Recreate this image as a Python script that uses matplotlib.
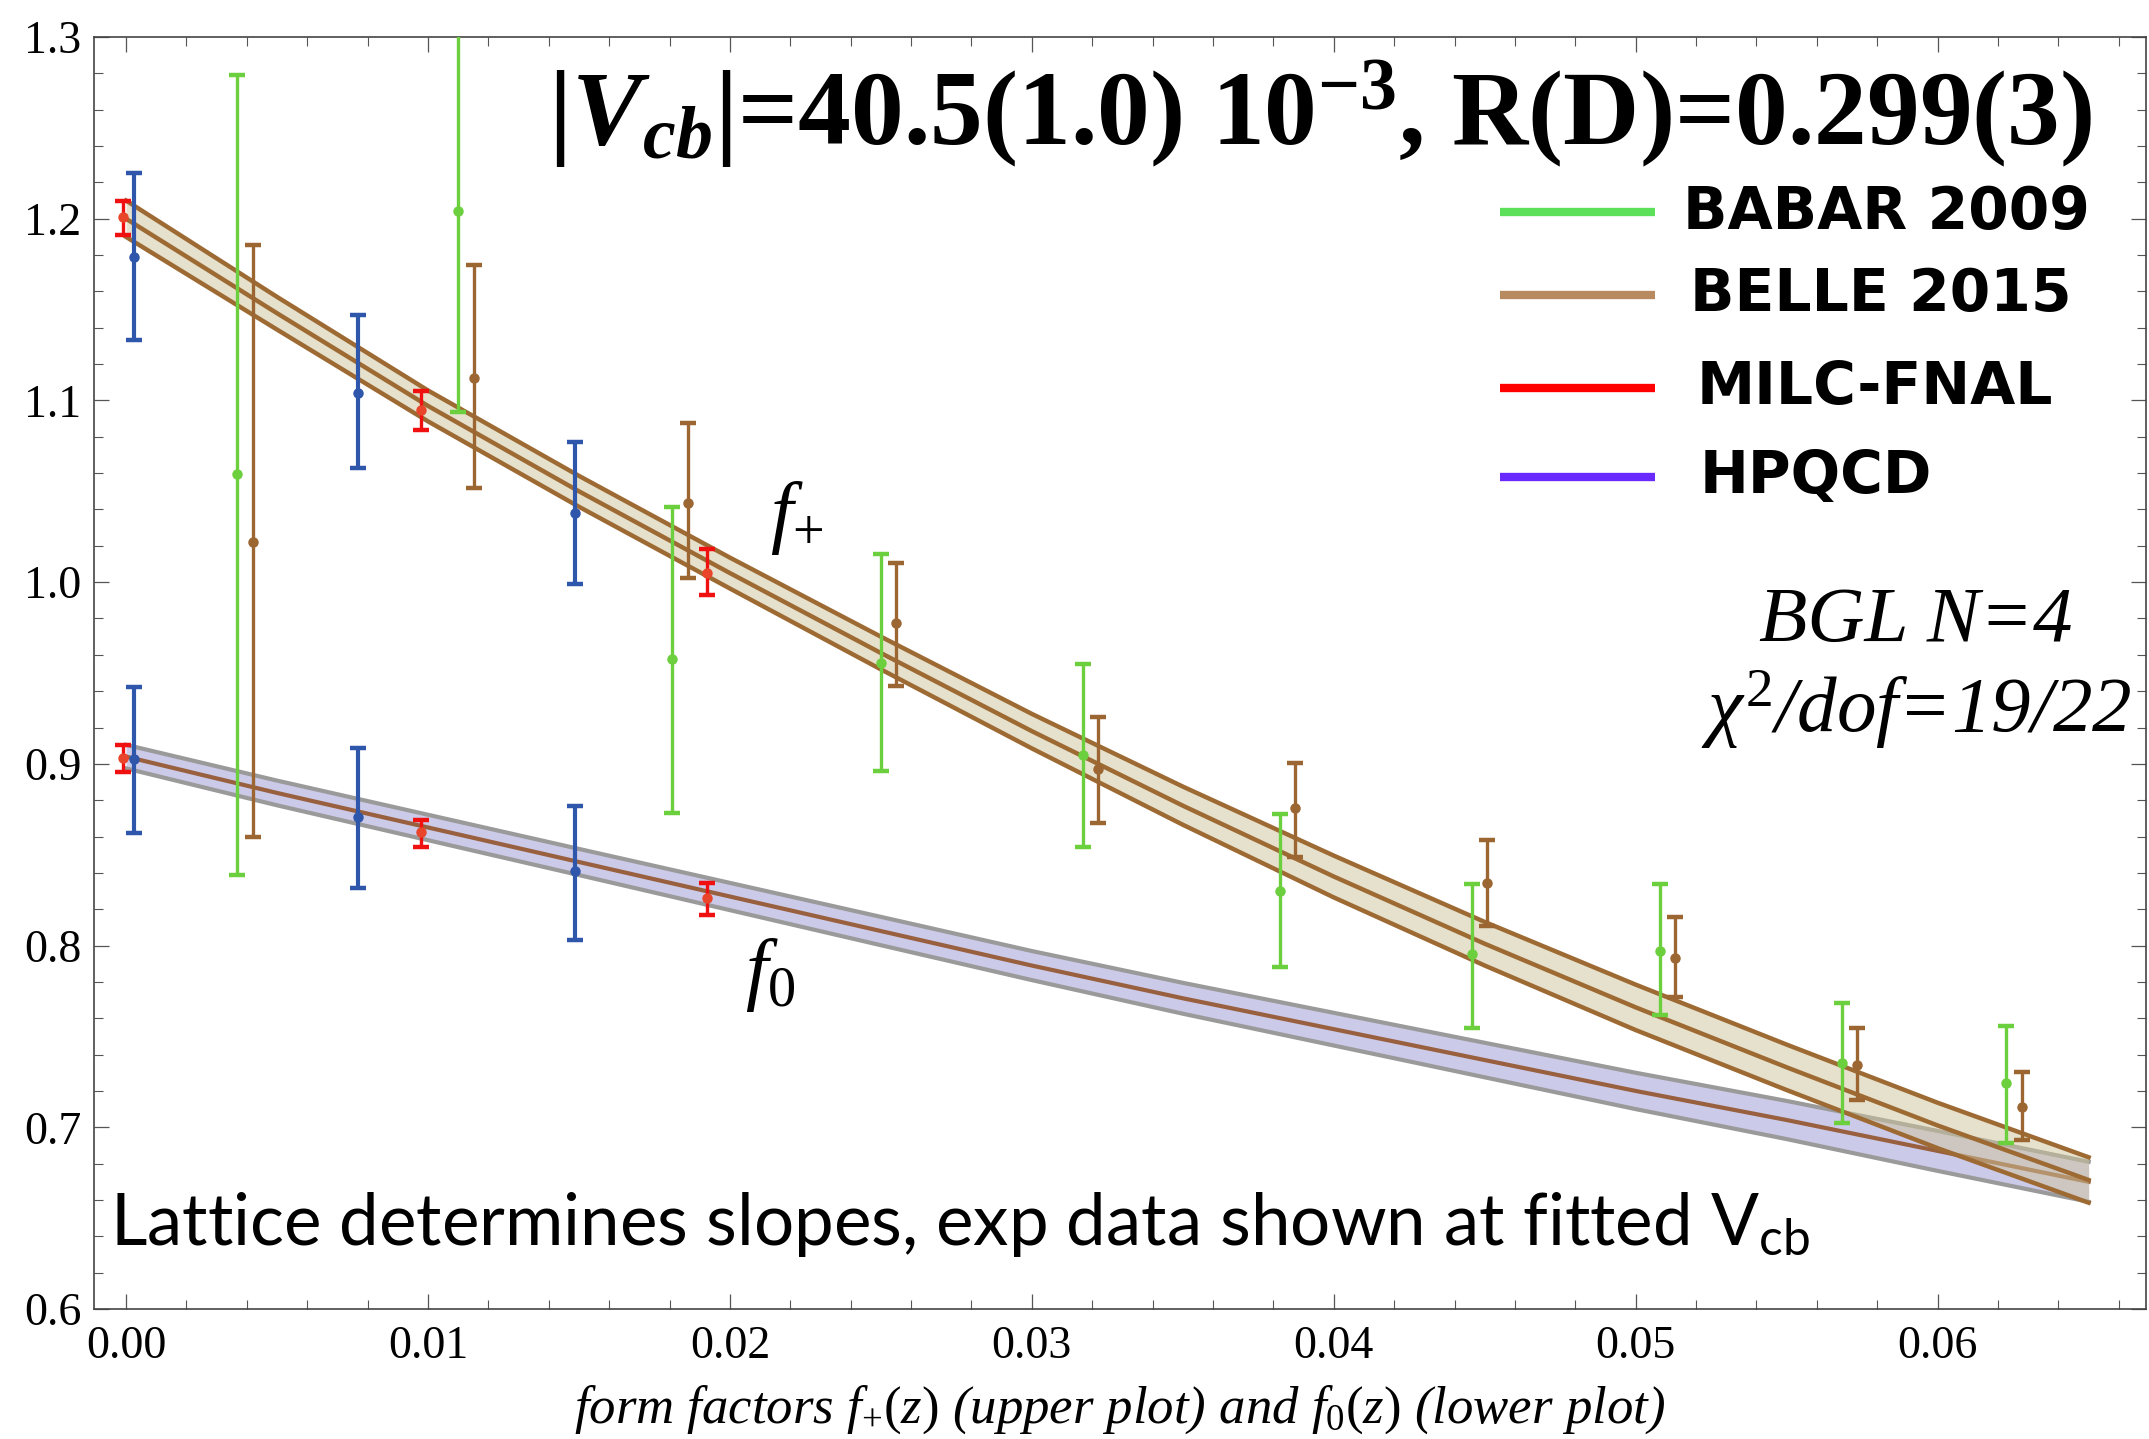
import numpy as np
import matplotlib.pyplot as plt
from matplotlib.ticker import MultipleLocator, FormatStrFormatter

plt.rcParams['font.family'] = ['Liberation Serif', 'DejaVu Serif']
plt.rcParams['mathtext.fontset'] = 'custom'
plt.rcParams['mathtext.rm'] = 'Liberation Serif'
plt.rcParams['mathtext.it'] = 'Liberation Serif:italic'
plt.rcParams['mathtext.bf'] = 'Liberation Serif:italic:bold'
plt.rcParams['mathtext.tt'] = 'Liberation Serif:bold'
plt.rcParams['mathtext.sf'] = 'Lato'

# fit bands (z grid, central value, half width)
z_band = [0.0, 0.005, 0.01, 0.015, 0.02, 0.025, 0.03, 0.035, 0.04, 0.045, 0.05, 0.055, 0.06, 0.065]
fplus = [1.200, 1.148, 1.097, 1.050, 1.005, 0.961, 0.918, 0.877, 0.838, 0.801, 0.766, 0.733, 0.701, 0.671]
fplus_err = [0.010, 0.009, 0.0085, 0.0085, 0.0085, 0.009, 0.0095, 0.0105, 0.0115, 0.012, 0.0125, 0.0125, 0.0125, 0.0125]
fzero = [0.904, 0.884, 0.865, 0.846, 0.827, 0.808, 0.789, 0.771, 0.754, 0.737, 0.720, 0.704, 0.687, 0.670]
fzero_err = [0.0065, 0.0068, 0.007, 0.0072, 0.0075, 0.0078, 0.008, 0.0085, 0.009, 0.0095, 0.010, 0.0105, 0.011, 0.011]

# HPQCD lattice points
hpqcd_z = [0.00025, 0.00769, 0.01487]
hpqcd_fp = [1.179, 1.104, 1.038]
hpqcd_fp_lo = [1.133, 1.063, 0.999]
hpqcd_fp_hi = [1.225, 1.147, 1.077]
hpqcd_f0 = [0.9025, 0.8705, 0.841]
hpqcd_f0_lo = [0.862, 0.8315, 0.803]
hpqcd_f0_hi = [0.9425, 0.9085, 0.877]

# MILC-FNAL lattice points
milc_z = [-0.0001, 0.00978, 0.01923]
milc_fp = [1.2008, 1.095, 1.005]
milc_fp_lo = [1.191, 1.084, 0.993]
milc_fp_hi = [1.210, 1.105, 1.018]
milc_f0 = [0.903, 0.8623, 0.8263]
milc_f0_lo = [0.8957, 0.854, 0.8168]
milc_f0_hi = [0.9103, 0.869, 0.8342]

# Babar 2009
babar_z = [0.00368, 0.01098, 0.01809, 0.02499, 0.0317, 0.03821, 0.04459, 0.0508, 0.05683, 0.06227]
babar_fp = [1.0595, 1.2044, 0.9575, 0.9557, 0.9048, 0.8302, 0.7951, 0.797, 0.7352, 0.7241]
babar_lo = [0.8388, 1.0938, 0.8727, 0.8963, 0.8544, 0.788, 0.7549, 0.7617, 0.7021, 0.6911]
babar_hi = [1.2791, 1.315, 1.0415, 1.0155, 0.9547, 0.8724, 0.8338, 0.8338, 0.7682, 0.7557]

# Belle 2015
belle_z = [0.00419, 0.01151, 0.0186, 0.0255, 0.0322, 0.03871, 0.04508, 0.0513, 0.05733, 0.06278]
belle_fp = [1.0222, 1.1125, 1.0437, 0.9773, 0.8969, 0.8755, 0.8342, 0.7929, 0.7342, 0.7109]
belle_lo = [0.8595, 1.052, 1.0023, 0.9428, 0.8673, 0.8489, 0.8107, 0.7718, 0.715, 0.693]
belle_hi = [1.1855, 1.1745, 1.0874, 1.0103, 0.9259, 0.9006, 0.8581, 0.8159, 0.7544, 0.7306]

legend_labels = ['BABAR 2009', 'BELLE 2015', 'MILC-FNAL', 'HPQCD']
legend_colors = ['#5CE05A', '#B88A60', '#FF0000', '#6A2AFF']

blue = '#2E56AA'
green = '#6CCF3D'
brown = '#9B6631'
red = '#F01010'


def err(y, lo, hi):
    y, lo, hi = np.array(y), np.array(lo), np.array(hi)
    return [y - lo, hi - y]


def points(z, y, lo, hi, color, lw, mfc=None):
    ax.errorbar(z, y, yerr=err(y, lo, hi), fmt='o', color=color, mfc=mfc or color,
                mec=mfc or color, ms=6.5, elinewidth=lw, capsize=6, capthick=3.2, zorder=5)


fig = plt.figure(figsize=(21.49, 14.39), dpi=100)
ax = fig.add_axes([94 / 2149, 1 - 1309 / 1439, (2146 - 94) / 2149, (1309 - 37) / 1439])

zb = np.array(z_band)
fp, fpe = np.array(fplus), np.array(fplus_err)
f0, f0e = np.array(fzero), np.array(fzero_err)

# f0 band (lavender, grey edges)
ax.fill_between(zb, f0 - f0e, f0 + f0e, color='#8F8AD0', alpha=0.45, lw=0, zorder=1)
ax.plot(zb, f0 + f0e, color='#9A9A9A', lw=3, zorder=2)
ax.plot(zb, f0 - f0e, color='#9A9A9A', lw=3, zorder=2)
ax.plot(zb, f0, color='#98603E', lw=3, zorder=2)

# f+ band (beige, brown edges)
ax.fill_between(zb, fp - fpe, fp + fpe, color='#CFC49A', alpha=0.5, lw=0, zorder=3)
for yy in (fp + fpe, fp, fp - fpe):
    ax.plot(zb, yy, color='#9E6A33', lw=3.2, zorder=4)

points(babar_z, babar_fp, babar_lo, babar_hi, green, 2.4)
points(belle_z, belle_fp, belle_lo, belle_hi, brown, 2.4)
points(hpqcd_z, hpqcd_fp, hpqcd_fp_lo, hpqcd_fp_hi, blue, 3.0)
points(hpqcd_z, hpqcd_f0, hpqcd_f0_lo, hpqcd_f0_hi, blue, 3.0)
points(milc_z, milc_fp, milc_fp_lo, milc_fp_hi, red, 2.4, mfc='#E8452A')
points(milc_z, milc_f0, milc_f0_lo, milc_f0_hi, red, 2.4, mfc='#E8452A')

ax.set_xlim(-0.00106, 0.0669)
ax.set_ylim(0.6, 1.3)
ax.xaxis.set_major_locator(MultipleLocator(0.01))
ax.xaxis.set_minor_locator(MultipleLocator(0.002))
ax.yaxis.set_major_locator(MultipleLocator(0.1))
ax.yaxis.set_minor_locator(MultipleLocator(0.02))
ax.xaxis.set_major_formatter(FormatStrFormatter('%.2f'))
ax.yaxis.set_major_formatter(FormatStrFormatter('%.1f'))
ax.tick_params(which='both', direction='in', top=True, right=True, color='#555555')
ax.tick_params(which='major', length=11, width=0.9, labelsize=33)
ax.tick_params(axis='y', which='major', pad=9)
ax.tick_params(axis='x', which='major', pad=12)
ax.tick_params(which='minor', length=6.5, width=0.8)
for s in ax.spines.values():
    s.set_color('#444444')
    s.set_linewidth(1.2)

ax.set_xlabel(r'form factors $f_{+}(z)$ (upper plot) and $f_{0}(z)$ (lower plot)',
              fontsize=38, fontstyle='italic', labelpad=11)

ax.text(0.2212, 0.9159, r'|$\mathbf{V_{cb}}$|=40.5(1.0) 10$^{\mathtt{-3}}$, R(D)=0.299(3)',
        transform=ax.transAxes, fontsize=76, fontweight='bold', ha='left', va='baseline')

ax.text(0.02132, 1.0243, r'$f_{+}$', fontsize=58, ha='left', va='baseline')
ax.text(0.0205, 0.7728, r'$f_{\mathit{0}}$', fontsize=58, ha='left', va='baseline')

ax.text(0.888, 0.525, 'BGL N=4', transform=ax.transAxes, fontsize=57,
        fontstyle='italic', ha='center', va='baseline')
ax.text(0.888, 0.4536, r'$\chi^{2}$/dof=19/22', transform=ax.transAxes, fontsize=57,
        fontstyle='italic', ha='center', va='baseline')

ax.text(0.0078, 0.0503, r'Lattice determines slopes, exp data shown at fitted $\mathsf{V_{cb}}$',
        transform=ax.transAxes, fontsize=51, family=['Lato', 'DejaVu Sans'], fontweight='normal',
        color='black', ha='left', va='baseline')

# legend drawn by hand
leg_y = [0.8624, 0.7972, 0.7241, 0.6541]
leg_tx = [0.7744, 0.7778, 0.7812, 0.7827]
for lab, col, yy, tx in zip(legend_labels, legend_colors, leg_y, leg_tx):
    ax.plot([0.6852, 0.7607], [yy, yy], color=col, lw=6, transform=ax.transAxes,
            solid_capstyle='butt', zorder=6)
    ax.text(tx, yy, lab, transform=ax.transAxes, fontsize=42, fontweight='bold',
            family=['DejaVu Sans'], ha='left', va='center')

fig.savefig('out.png', dpi=100)
